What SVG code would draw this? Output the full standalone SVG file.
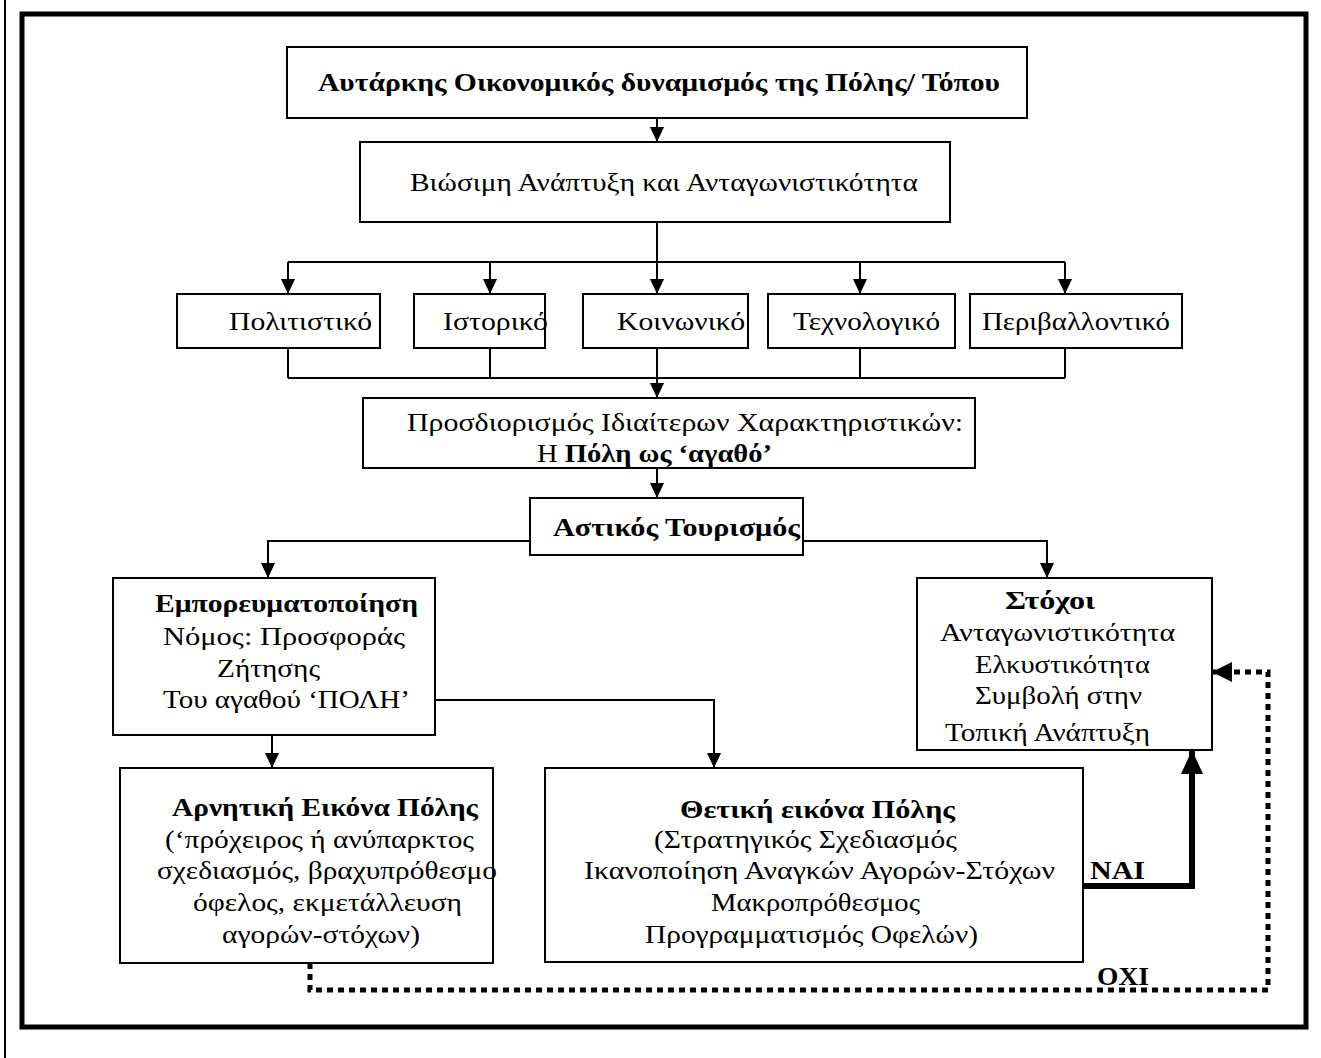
<svg xmlns="http://www.w3.org/2000/svg" width="1321" height="1058" viewBox="0 0 1321 1058">
<style>
.box{fill:#fff;stroke:#000;stroke-width:2}
.t{font-family:"Liberation Serif","Times New Roman",serif;font-size:26px;fill:#000}
.b{font-weight:bold}
.c{fill:none;stroke:#000;stroke-width:2}
</style>
<defs>
<marker id="ah" markerUnits="userSpaceOnUse" markerWidth="16" markerHeight="16" refX="15" refY="7" orient="auto">
<path d="M0,0 L15,7 L0,14 z" fill="#000"/>
</marker>
<marker id="ahb" markerUnits="userSpaceOnUse" markerWidth="26" markerHeight="26" refX="24" refY="11" orient="auto">
<path d="M0,0 L24,11 L0,22 z" fill="#000"/>
</marker>
<marker id="ahd" markerUnits="userSpaceOnUse" markerWidth="24" markerHeight="24" refX="20" refY="10" orient="auto">
<path d="M0,0 L20,10 L0,20 z" fill="#000"/>
</marker>
</defs>
<rect width="1321" height="1058" fill="#fff"/>
<line x1="5" y1="0" x2="5" y2="1058" stroke="#000" stroke-width="2"/>
<rect x="22" y="14" width="1284" height="1013" fill="none" stroke="#000" stroke-width="5"/>

<g id="connectors">
<line class="c" x1="657" y1="118" x2="657" y2="142" marker-end="url(#ah)"/>
<line class="c" x1="657" y1="222" x2="657" y2="262"/>
<line class="c" x1="288" y1="262" x2="1065" y2="262"/>
<line class="c" x1="288" y1="262" x2="288" y2="294" marker-end="url(#ah)"/>
<line class="c" x1="490" y1="262" x2="490" y2="294" marker-end="url(#ah)"/>
<line class="c" x1="657" y1="262" x2="657" y2="294" marker-end="url(#ah)"/>
<line class="c" x1="860" y1="262" x2="860" y2="294" marker-end="url(#ah)"/>
<line class="c" x1="1065" y1="262" x2="1065" y2="294" marker-end="url(#ah)"/>
<line class="c" x1="288" y1="348" x2="288" y2="378"/>
<line class="c" x1="490" y1="348" x2="490" y2="378"/>
<line class="c" x1="860" y1="348" x2="860" y2="378"/>
<line class="c" x1="1065" y1="348" x2="1065" y2="378"/>
<line class="c" x1="288" y1="378" x2="1065" y2="378"/>
<line class="c" x1="657" y1="348" x2="657" y2="398" marker-end="url(#ah)"/>
<line class="c" x1="657" y1="468" x2="657" y2="498" marker-end="url(#ah)"/>
<polyline class="c" points="530,541 268,541 268,578" marker-end="url(#ah)"/>
<polyline class="c" points="803,541 1047,541 1047,578" marker-end="url(#ah)"/>
<line class="c" x1="272" y1="735" x2="272" y2="768" marker-end="url(#ah)"/>
<polyline class="c" points="435,700 714,700 714,768" marker-end="url(#ah)"/>
<polyline points="1083,886 1192,886 1192,750" fill="none" stroke="#000" stroke-width="6" marker-end="url(#ahb)"/>
<polyline points="310,963 310,990 1268,990 1268,672 1212,672" fill="none" stroke="#000" stroke-width="5" stroke-dasharray="6 5" marker-end="url(#ahd)"/>
<text class="t b" x="1090" y="879" textLength="55" lengthAdjust="spacingAndGlyphs">ΝΑΙ</text>
<text class="t b" x="1097" y="985" textLength="52" lengthAdjust="spacingAndGlyphs">ΟΧΙ</text>
</g>

<g id="n1">
<rect class="box" x="287" y="47" width="740" height="71"/>
<text class="t b" x="318" y="91" textLength="682" lengthAdjust="spacingAndGlyphs">Αυτάρκης Οικονομικός δυναμισμός της Πόλης/ Τόπου</text>
</g>
<g id="n2">
<rect class="box" x="360" y="142" width="590" height="80"/>
<text class="t" x="410" y="191" textLength="508" lengthAdjust="spacingAndGlyphs">Βιώσιμη Ανάπτυξη και Ανταγωνιστικότητα</text>
</g>
<g id="n3">
<rect class="box" x="177" y="294" width="203" height="54"/>
<text class="t" x="229" y="330" textLength="143" lengthAdjust="spacingAndGlyphs">Πολιτιστικό</text>
</g>
<g id="n4">
<rect class="box" x="414" y="294" width="131" height="54"/>
<text class="t" x="443" y="330" textLength="105" lengthAdjust="spacingAndGlyphs">Ιστορικό</text>
</g>
<g id="n5">
<rect class="box" x="583" y="294" width="165" height="54"/>
<text class="t" x="617" y="330" textLength="128" lengthAdjust="spacingAndGlyphs">Κοινωνικό</text>
</g>
<g id="n6">
<rect class="box" x="768" y="294" width="187" height="54"/>
<text class="t" x="793" y="330" textLength="147" lengthAdjust="spacingAndGlyphs">Τεχνολογικό</text>
</g>
<g id="n7">
<rect class="box" x="970" y="294" width="212" height="54"/>
<text class="t" x="982" y="330" textLength="188" lengthAdjust="spacingAndGlyphs">Περιβαλλοντικό</text>
</g>
<g id="n8">
<rect class="box" x="363" y="398" width="612" height="70"/>
<text class="t" x="407" y="431" textLength="556" lengthAdjust="spacingAndGlyphs">Προσδιορισμός Ιδιαίτερων Χαρακτηριστικών:</text>
<text class="t" x="537" y="462" textLength="235" lengthAdjust="spacingAndGlyphs">Η <tspan class="b">Πόλη ως ‘αγαθό’</tspan></text>
</g>
<g id="n9">
<rect class="box" x="530" y="498" width="273" height="57"/>
<text class="t b" x="553" y="536" textLength="247" lengthAdjust="spacingAndGlyphs">Αστικός Τουρισμός</text>
</g>
<g id="n10">
<rect class="box" x="113" y="578" width="322" height="157"/>
<text class="t b" x="155" y="612" textLength="263" lengthAdjust="spacingAndGlyphs">Εμπορευματοποίηση</text>
<text class="t" x="163" y="645" textLength="242" lengthAdjust="spacingAndGlyphs">Νόμος: Προσφοράς</text>
<text class="t" x="217" y="677" textLength="103" lengthAdjust="spacingAndGlyphs">Ζήτησης</text>
<text class="t" x="163" y="708" textLength="247" lengthAdjust="spacingAndGlyphs">Του αγαθού ‘ΠΟΛΗ’</text>
</g>
<g id="n11">
<rect class="box" x="917" y="578" width="295" height="172"/>
<text class="t b" x="1005" y="609" textLength="90" lengthAdjust="spacingAndGlyphs">Στόχοι</text>
<text class="t" x="940" y="641" textLength="235" lengthAdjust="spacingAndGlyphs">Ανταγωνιστικότητα</text>
<text class="t" x="975" y="673" textLength="175" lengthAdjust="spacingAndGlyphs">Ελκυστικότητα</text>
<text class="t" x="975" y="704" textLength="167" lengthAdjust="spacingAndGlyphs">Συμβολή στην</text>
<text class="t" x="945" y="741" textLength="205" lengthAdjust="spacingAndGlyphs">Τοπική Ανάπτυξη</text>
</g>
<g id="n12">
<rect class="box" x="120" y="768" width="373" height="195"/>
<text class="t b" x="172" y="816" textLength="306" lengthAdjust="spacingAndGlyphs">Αρνητική Εικόνα Πόλης</text>
<text class="t" x="165" y="848" textLength="309" lengthAdjust="spacingAndGlyphs">(‘πρόχειρος ή ανύπαρκτος</text>
<text class="t" x="157" y="879" textLength="340" lengthAdjust="spacingAndGlyphs">σχεδιασμός, βραχυπρόθεσμο</text>
<text class="t" x="193" y="911" textLength="269" lengthAdjust="spacingAndGlyphs">όφελος, εκμετάλλευση</text>
<text class="t" x="222" y="943" textLength="198" lengthAdjust="spacingAndGlyphs">αγορών-στόχων)</text>
</g>
<g id="n13">
<rect class="box" x="545" y="768" width="538" height="194"/>
<text class="t b" x="680" y="818" textLength="275" lengthAdjust="spacingAndGlyphs">Θετική εικόνα Πόλης</text>
<text class="t" x="654" y="848" textLength="303" lengthAdjust="spacingAndGlyphs">(Στρατηγικός Σχεδιασμός</text>
<text class="t" x="584" y="879" textLength="471" lengthAdjust="spacingAndGlyphs">Ικανοποίηση Αναγκών Αγορών-Στόχων</text>
<text class="t" x="711" y="911" textLength="209" lengthAdjust="spacingAndGlyphs">Μακροπρόθεσμος</text>
<text class="t" x="645" y="943" textLength="333" lengthAdjust="spacingAndGlyphs">Προγραμματισμός Οφελών)</text>
</g>
</svg>
